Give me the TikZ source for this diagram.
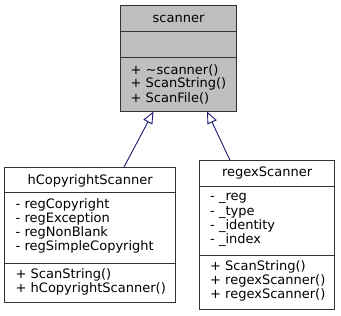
\documentclass[tikz,border=0pt]{standalone}
\usepackage{fontspec}
\setmainfont{DejaVu Sans}
\usetikzlibrary{arrows.meta,positioning}
\definecolor{boxline}{RGB}{51,51,51}
\definecolor{basefill}{RGB}{191,191,191}
\definecolor{inherit}{RGB}{25,25,112}
\begin{document}
\begin{tikzpicture}[x=1pt,y=-1pt,
  classbox/.style={draw=boxline, line width=1pt, inner sep=0pt},
  sepline/.style={draw=boxline, line width=1pt},
  title/.style={inner sep=0pt, anchor=center, font=\fontsize{13}{14}\selectfont},
  member/.style={inner sep=0pt, anchor=west, font=\fontsize{13}{14}\selectfont},
  generalize/.style={draw=inherit, line width=0.9pt,
    -{Triangle[open, length=12pt, width=10pt, fill=white]}}]
\useasboundingbox (0,0) rectangle (341,316);

% base class
\path[classbox, fill=basefill] (120.5,5.5) rectangle (236.5,111);
\node[classbox, minimum width=116pt, minimum height=105.5pt] (scanner) at (178.5,58.25) {};
\draw[sepline] (120.5,31) -- (236.5,31);
\draw[sepline] (120.5,57) -- (236.5,57);
\node[title] (scT) at (178.5,18.5) {scanner};
\node[member] (scM1) at (130.5,70) {+ \char"007E scanner()};
\node[member] (scM2) at (130.5,84) {+ ScanString()};
\node[member] (scM3) at (130.5,98) {+ ScanFile()};

% hCopyrightScanner
\node[classbox, fill=white, minimum width=171.2pt, minimum height=135pt] (hcs) at (90.1,235) {};
\draw[sepline] (4.5,192.5) -- (175.7,192.5);
\draw[sepline] (4.5,263) -- (175.7,263);
\node[title] (hT) at (90.1,180.5) {hCopyrightScanner};
\node[member] (hA1) at (15.5,205) {- regCopyright};
\node[member] (hA2) at (15.5,219) {- regException};
\node[member] (hA3) at (15.5,233) {- regNonBlank};
\node[member] (hA4) at (15.5,247) {- regSimpleCopyright};
\node[member] (hM1) at (15.5,275) {+ ScanString()};
\node[member] (hM2) at (15.5,289) {+ hCopyrightScanner()};

% regexScanner
\node[classbox, fill=white, minimum width=134.8pt, minimum height=148.6pt] (rxs) at (267.1,235) {};
\draw[sepline] (199.7,186) -- (334.5,186);
\draw[sepline] (199.7,255) -- (334.5,255);
\node[title] (rT) at (267.1,173.5) {regexScanner};
\node[member] (rA1) at (210,198) {- \_reg};
\node[member] (rA2) at (210,212) {- \_type};
\node[member] (rA3) at (210,226) {- \_identity};
\node[member] (rA4) at (210,240) {- \_index};
\node[member] (rM1) at (210,267) {+ ScanString()};
\node[member] (rM2) at (210,281) {+ regexScanner()};
\node[member] (rM3) at (210,295) {+ regexScanner()};

% inheritance arrows
\draw[generalize] (hcs.north -| 124,0) -- (scanner.south -| 153.5,0);
\draw[generalize] (rxs.north -| 230,0) -- (scanner.south -| 207,0);
\end{tikzpicture}
\end{document}
